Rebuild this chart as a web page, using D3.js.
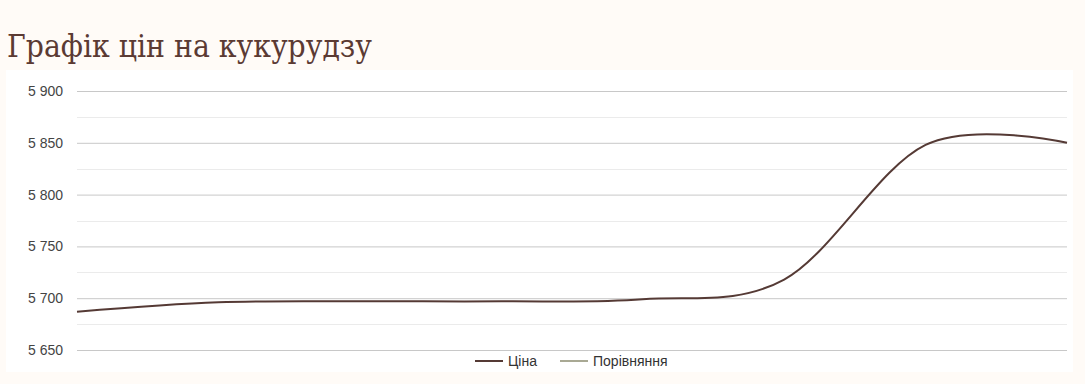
<!DOCTYPE html>
<html>
<head>
<meta charset="utf-8">
<script src="https://cdn.jsdelivr.net/npm/d3@7"></script>
<style>
    body { margin: 0; background: #fffbf7; }
    #chart { width: 1085px; height: 384px; }
</style>
</head>
<body>
<div id="chart"></div>
<script>
//data
var days = d3.range(8);
var prices = [5687, 5696, 5697, 5697, 5699, 5718, 5848, 5850];
var yTicks = [5650, 5700, 5750, 5800, 5850, 5900];
var legendItems = ['Ціна', 'Порівняння'];

//sizes
var outerW = 1085,
    outerH = 384,
    margin = { top: 91, right: 18, bottom: 34, left: 77 };

var w = outerW - margin.left - margin.right,
    h = 259;

var colors = {
    'Ціна': '#553a35',
    'Порівняння': '#a9a994'
};

var fmt = d3.formatLocale({ decimal: ',', thousands: ' ', grouping: [3], currency: ['', ''] }).format(',d');

var svg = d3.select('#chart').append('svg')
    .attr('width', outerW)
    .attr('height', outerH);

//white panel
svg.append('rect')
    .attr('x', 6)
    .attr('y', 70)
    .attr('width', 1067)
    .attr('height', 302)
    .attr('fill', '#ffffff');

svg.append('text')
    .attr('x', 7)
    .attr('y', 57)
    .attr('font-family', 'DejaVu Serif, serif')
    .attr('font-size', 31)
    .attr('fill', '#5b3a33')
    .attr('textLength', 365)
    .attr('lengthAdjust', 'spacingAndGlyphs')
    .text('Графік цін на кукурудзу');

var xScale = d3.scaleLinear()
    .domain(d3.extent(days))
    .range([0, w]);

var yScale = d3.scaleLinear()
    .domain([5650, 5900])
    .range([h, 0]);

var g = svg.append('g')
    .attr('transform', 'translate(' + margin.left + ', ' + margin.top + ')');

//minor grid
g.append('g')
    .selectAll('line')
    .data(yTicks.slice(0, -1).map(function(d) { return d + 25; }))
    .enter().append('line')
    .attr('x1', 0)
    .attr('x2', w)
    .attr('y1', function(d) { return Math.round(yScale(d)) + 0.5; })
    .attr('y2', function(d) { return Math.round(yScale(d)) + 0.5; })
    .attr('stroke', '#ebebeb');

var yAxis = d3.axisLeft(yScale)
    .tickValues(yTicks)
    .tickSize(-w)
    .tickPadding(14)
    .tickFormat(fmt);

var yAxisG = g.append('g').call(yAxis);
yAxisG.select('.domain').remove();
yAxisG.selectAll('.tick line')
    .attr('stroke', '#c8c8c8');
yAxisG.selectAll('.tick text')
    .attr('font-family', 'Liberation Sans, Arial, sans-serif')
    .attr('font-size', 14)
    .attr('fill', '#444');

var line = d3.line()
    .x(function(d, i) { return xScale(days[i]); })
    .y(function(d) { return yScale(d); })
    .curve(d3.curveCardinal.tension(0));

g.append('path')
    .datum(prices)
    .attr('d', line)
    .attr('fill', 'none')
    .attr('stroke', colors['Ціна'])
    .attr('stroke-width', 2);

//legend
var legendX = [475, 560];
var legend = svg.append('g')
    .selectAll('g')
    .data(legendItems)
    .enter().append('g')
    .attr('transform', function(d, i) { return 'translate(' + legendX[i] + ', 361)'; });

legend.append('line')
    .attr('x1', 0)
    .attr('x2', 28)
    .attr('stroke', function(d) { return colors[d]; })
    .attr('stroke-width', 2);

legend.append('text')
    .attr('x', 33)
    .attr('dy', '0.35em')
    .attr('font-family', 'Liberation Sans, Arial, sans-serif')
    .attr('font-size', 14)
    .attr('fill', '#333')
    .text(function(d) { return d; });
</script>
</body>
</html>
